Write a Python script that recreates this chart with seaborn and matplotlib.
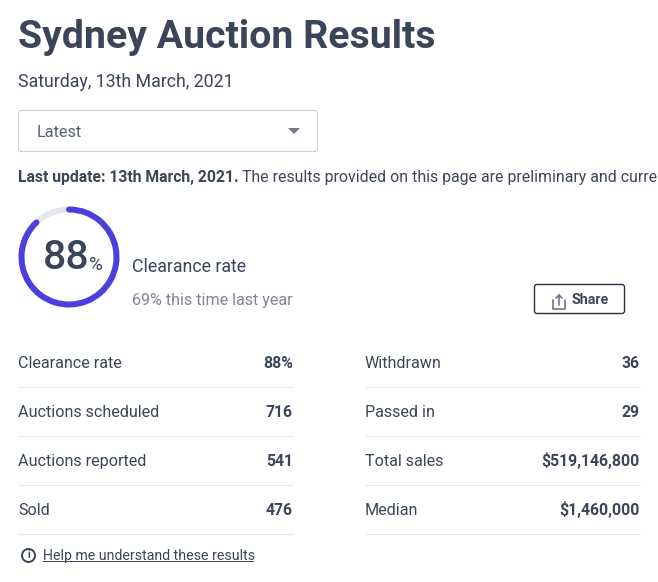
import matplotlib
matplotlib.use("Agg")
import matplotlib.pyplot as plt
from matplotlib.patches import Arc, Circle, FancyBboxPatch, Polygon, Rectangle
import seaborn as sns

title = "Sydney Auction Results"
date_label = "Saturday, 13th March, 2021"
dropdown_label = "Latest"
update_bold = "Last update: 13th March, 2021."
update_rest = "The results provided on this page are preliminary and curre"
clearance = 88
last_year = "69% this time last year"

left_labels = ["Clearance rate", "Auctions scheduled", "Auctions reported", "Sold"]
left_values = ["88%", "716", "541", "476"]
right_labels = ["Withdrawn", "Passed in", "Total sales", "Median"]
right_values = ["36", "29", "$519,146,800", "$1,460,000"]

sns.set_theme(style="white")
plt.rcParams['font.family'] = ['Roboto', 'DejaVu Sans']

DARK = "#3b4559"
GREY = "#7f8594"
PURPLE = "#4c3fdd"
LINE = "#e8e9ec"

fig = plt.figure(figsize=(6.58, 5.82), dpi=100)
ax = fig.add_axes([0, 0, 1, 1])
ax.set_xlim(0, 658)
ax.set_ylim(582, 0)
ax.axis("off")

# header
ax.text(18, 38, title, fontsize=28.3, fontweight="bold", color=DARK, va="center")
ax.text(18, 82, date_label, fontsize=12.8, color=DARK, va="center")

# dropdown
ax.add_patch(FancyBboxPatch((18.5, 110.5), 299, 41, boxstyle="round,pad=0,rounding_size=3",
                            fc="white", ec="#cfd1d8", lw=0.8))
ax.text(37, 137, dropdown_label, fontsize=11.7, color="#555e70", va="baseline")
ax.add_patch(Polygon([(288, 128), (300, 128), (294, 134)], fc="#70778a", ec="none"))

ax.text(18, 177.5, update_bold, fontsize=11.3, fontweight="bold", color=DARK, va="center")
ax.text(242, 177.5, update_rest, fontsize=11.4, color=DARK, va="center")

# clearance ring
ring = fig.add_axes([18 / 658, 1 - 308 / 582, 102 / 658, 102 / 582])
ring.set_xlim(-51, 51)
ring.set_ylim(-51, 51)
ring.axis("off")
r = 47.5
end_angle = 90 - 360 * clearance / 100
ring.add_patch(Circle((0, 0), r, fc="none", ec="#e4e7ec", lw=4.3))
ring.add_patch(Arc((0, 0), 2 * r, 2 * r, theta1=end_angle + 360, theta2=450, ec=PURPLE, lw=4.3,
                   capstyle="round"))

ax.text(42.5, 258, str(clearance), fontsize=29.5, color=DARK, va="center", fontweight="medium")
ax.text(89.5, 264.5, "%", fontsize=13.5, color=DARK, va="center")
ax.text(132, 267.5, "Clearance rate", fontsize=12.8, color=DARK, va="center")
ax.text(132, 301, last_year, fontsize=11.65, color=GREY, va="center")

# share button
ax.add_patch(FancyBboxPatch((534.5, 284.5), 90, 29, boxstyle="round,pad=0,rounding_size=2.5",
                            fc="white", ec="#253043", lw=1))
ax.text(571, 300, "Share", fontsize=10.2, fontweight="bold", color=DARK, va="center")
ax.plot([553, 553, 565, 565], [300, 308.5, 308.5, 300], color="#70778a", lw=1.2)
ax.plot([559, 559], [305, 295], color="#70778a", lw=1.2)
ax.plot([556, 559, 562], [298, 295, 298], color="#70778a", lw=1.2)

# results table
row_ys = [368, 417, 466, 515]
line_ys = [386.5, 435.5, 484.5, 533.5]
for y, ly, ll, lv, rl, rv in zip(row_ys, line_ys, left_labels, left_values, right_labels, right_values):
    ax.text(18, y, ll, fontsize=11.6, color=DARK, va="baseline")
    ax.text(293, y, lv, fontsize=11.3, fontweight="bold", color=DARK, va="baseline", ha="right")
    ax.text(365, y, rl, fontsize=11.6, color=DARK, va="baseline")
    ax.text(640, y, rv, fontsize=11.3, fontweight="bold", color=DARK, va="baseline", ha="right")
    ax.plot([18, 293], [ly, ly], color=LINE, lw=0.8, solid_capstyle="butt")
    ax.plot([365, 640], [ly, ly], color=LINE, lw=0.8, solid_capstyle="butt")

# help link
ax.add_patch(Circle((28.5, 555.5), 6.5, fc="white", ec=DARK, lw=1.4))
ax.text(28.5, 555.5, "i", fontsize=7, fontweight="bold", color=DARK, va="center", ha="center")
ax.text(43, 556, "Help me understand these results", fontsize=10.2, color=DARK, va="center")
ax.add_patch(Rectangle((43, 561), 211, 1, fc=DARK, ec="none"))

fig.savefig("out.png", dpi=100)
